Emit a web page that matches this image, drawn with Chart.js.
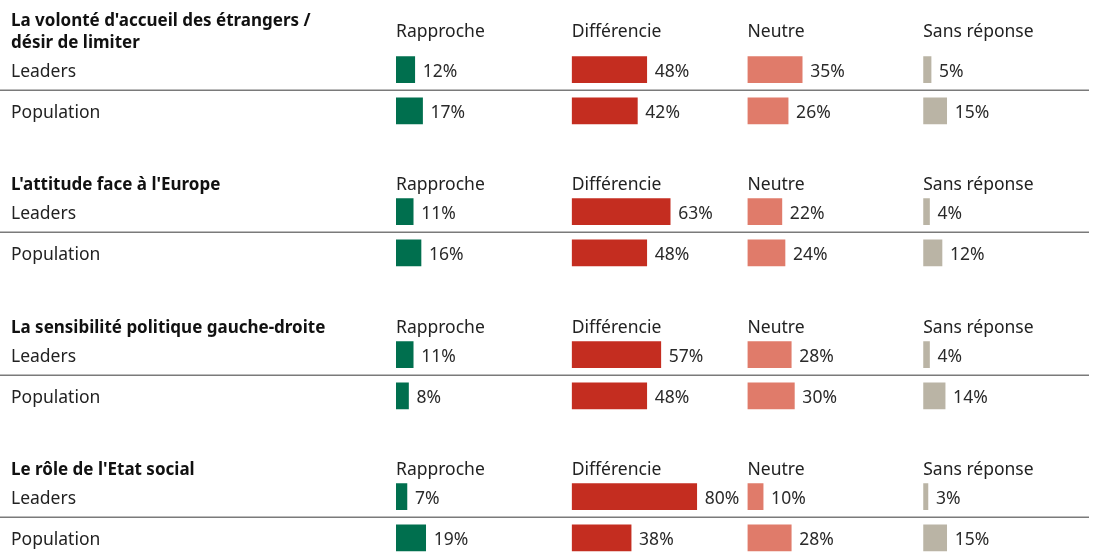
<!DOCTYPE html>
<html>
<head>
<meta charset="utf-8">
<script src="https://cdn.jsdelivr.net/npm/chart.js@4"></script>
<style>
  body { margin: 0; background: #fff; }
  #wrap { position: relative; width: 1102px; height: 555px; overflow: hidden; }
  .sec { position: absolute; left: 0; width: 1102px; height: 142px; }
</style>
</head>
<body>
<div id="wrap">
  <div class="sec" style="top:0"><canvas id="sec0" width="1102" height="142"></canvas></div>
  <div class="sec" style="top:142px"><canvas id="sec1" width="1102" height="142"></canvas></div>
  <div class="sec" style="top:285px"><canvas id="sec2" width="1102" height="142"></canvas></div>
  <div class="sec" style="top:427px"><canvas id="sec3" width="1102" height="142"></canvas></div>
</div>
<script>
// données (Leaders, Population)
const themes = [
  ["La volonté d'accueil des étrangers /", 'désir de limiter'],
  ["L'attitude face à l'Europe"],
  ['La sensibilité politique gauche-droite'],
  ["Le rôle de l'Etat social"]
];
const groupes = ['Leaders', 'Population'];
const reponses = ['Rapproche', 'Différencie', 'Neutre', 'Sans réponse'];
const rapproche = [[12, 17], [11, 16], [11, 8], [7, 19]];
const differencie = [[48, 42], [63, 48], [57, 48], [80, 38]];
const neutre = [[35, 26], [22, 24], [28, 30], [10, 28]];
const sansReponse = [[5, 15], [4, 12], [4, 14], [3, 15]];

const couleurs = ['#006f4e', '#c42d20', '#e07b6a', '#bab4a5'];
const FONT = '"Noto Sans", sans-serif';

Chart.defaults.font.family = FONT;

// titres, en-têtes de colonnes, séparateur et étiquettes de valeurs
const decorPlugin = {
  id: 'decor',
  afterDatasetsDraw(chart) {
    const ctx = chart.ctx;
    const area = chart.chartArea;
    const idx = chart.options.plugins.decor.index;
    const yScale = chart.scales.y;
    ctx.save();

    // ligne entre Leaders et Population
    const yMid = Math.round((yScale.getPixelForValue(0) + yScale.getPixelForValue(1)) / 2);
    ctx.strokeStyle = '#7a7a7a';
    ctx.lineWidth = 1.5;
    ctx.beginPath();
    ctx.moveTo(0, yMid + 0.25);
    ctx.lineTo(1089, yMid + 0.25);
    ctx.stroke();

    // titre du thème
    const lignes = themes[idx];
    ctx.fillStyle = '#111';
    ctx.font = 'bold 17px ' + FONT;
    ctx.textBaseline = 'middle';
    ctx.textAlign = 'left';
    lignes.forEach((l, i) => {
      const y = area.top - 6 - (lignes.length - 1 - i) * 22;
      ctx.fillText(l, 11, y);
    });

    // en-têtes de colonnes
    ctx.font = '17.5px ' + FONT;
    ctx.fillStyle = '#222';
    const yHead = lignes.length > 1 ? area.top - 17 : area.top - 6;
    reponses.forEach((r, i) => {
      ctx.fillText(r, chart.scales['x' + i].left, yHead);
    });

    // valeurs
    ctx.fillStyle = '#2a2a2a';
    chart.data.datasets.forEach((ds, i) => {
      const meta = chart.getDatasetMeta(i);
      meta.data.forEach((bar, j) => {
        ctx.fillText(ds.data[j] + '%', bar.x + 8, bar.y + 2);
      });
    });
    ctx.restore();
  }
};

function creerSection(idx) {
  const series = [rapproche[idx], differencie[idx], neutre[idx], sansReponse[idx]];
  const scales = {
    y: {
      type: 'category',
      labels: groupes,
      grid: { display: false },
      border: { display: false },
      ticks: { color: '#222', font: { size: 17.5 }, crossAlign: 'far', padding: 0, labelOffset: 2 },
      afterFit: s => { s.width = 385; }
    }
  };
  reponses.forEach((r, i) => {
    scales['x' + i] = {
      type: 'linear',
      position: 'bottom',
      stack: 'colonnes',
      min: 0,
      max: 112.5,
      display: false
    };
  });

  new Chart(document.getElementById('sec' + idx), {
    type: 'bar',
    data: {
      labels: groupes,
      datasets: series.map((vals, i) => ({
        label: reponses[i],
        data: vals,
        xAxisID: 'x' + i,
        backgroundColor: couleurs[i],
        barThickness: 26,
        grouped: false
      }))
    },
    options: {
      indexAxis: 'y',
      responsive: false,
      animation: false,
      layout: { padding: { left: 11, right: 3, top: 49, bottom: 10 } },
      scales: scales,
      plugins: {
        legend: { display: false },
        tooltip: { enabled: false },
        decor: { index: idx }
      }
    },
    plugins: [decorPlugin]
  });
}

themes.forEach((t, i) => creerSection(i));
</script>
</body>
</html>
